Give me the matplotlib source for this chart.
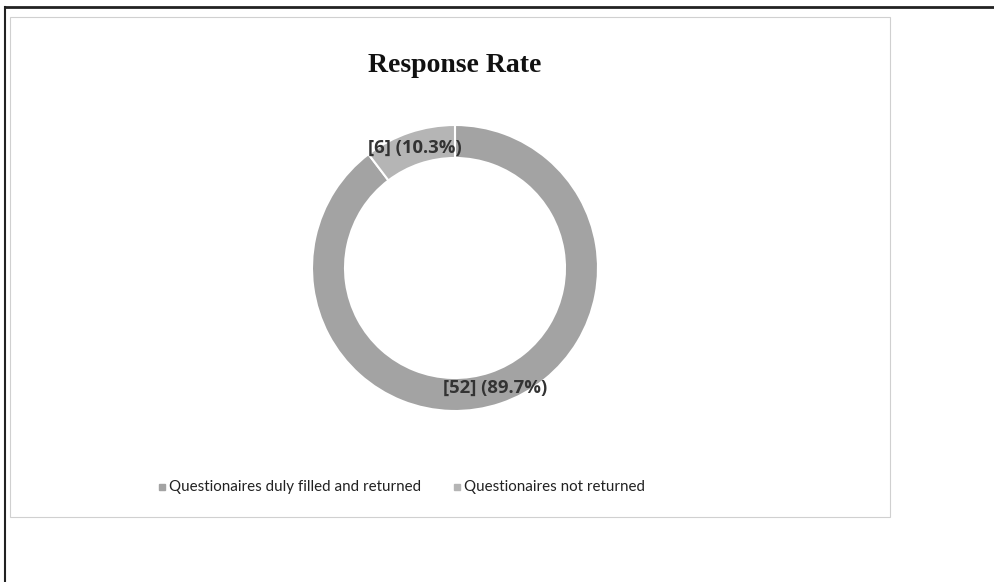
import matplotlib.pyplot as plt
from matplotlib.patches import Rectangle
from matplotlib.lines import Line2D

labels = ['Questionaires duly filled and returned', 'Questionaires not returned']
counts = [52, 6]
colors = ['#a3a3a3', '#b5b5b5']

total = sum(counts)

def fmt(pct):
    n = int(round(pct * total / 100.0))
    return '[%d] (%.1f%%)' % (n, pct)

fig = plt.figure(figsize=(9.95, 5.82), dpi=100)
ax = fig.add_axes([0, 0, 1, 1])
ax.set_xlim(0, 995)
ax.set_ylim(0, 582)

# donut, first slice starts at 12 o'clock going clockwise
wedges, texts, autotexts = ax.pie(
    counts, colors=colors, startangle=90, counterclock=False,
    center=(455, 314), radius=143, frame=True,
    wedgeprops=dict(width=33, edgecolor='white', linewidth=1.5),
    autopct=fmt, pctdistance=0.885)
for t in autotexts:
    t.set_fontsize(13.3)
    t.set_fontweight('bold')
    t.set_color('#333333')
    t.set_family(['Open Sans', 'DejaVu Sans'])
ax.set_xlim(0, 995)
ax.set_ylim(0, 582)
ax.axis('off')

# chart area frame and page borders
ax.add_patch(Rectangle((10, 65), 880, 500, fill=False,
                       edgecolor='#d0d0d0', linewidth=0.8))
ax.add_line(Line2D([5, 995], [575, 575], color='#222222', linewidth=2))
ax.add_line(Line2D([5, 5], [0, 575], color='#222222', linewidth=1.5))

ax.text(455, 516, 'Response Rate', ha='center', va='center',
        fontsize=20, fontweight='bold', family='Liberation Serif',
        color='#111111')

# legend
for x, lab, c in zip([162, 457], labels, colors):
    ax.add_patch(Rectangle((x - 3, 92), 6, 6, color=c))
    ax.text(x + 7, 95, lab, ha='left', va='center', fontsize=10.9,
            family='Lato', color='#222222')

plt.savefig('out.png', dpi=100)
